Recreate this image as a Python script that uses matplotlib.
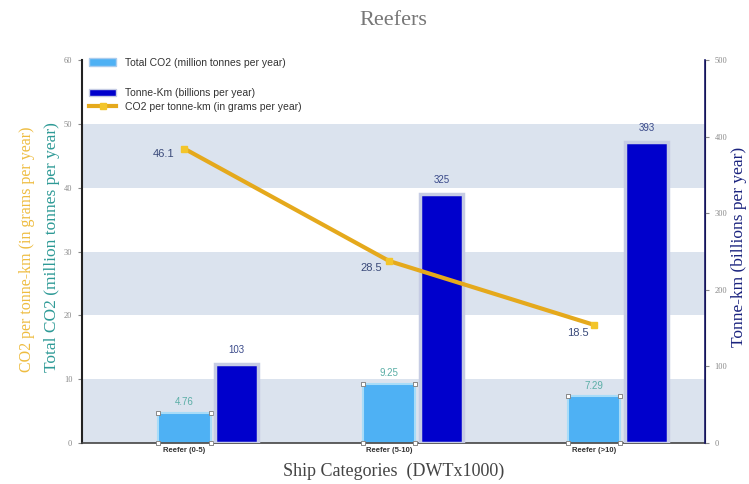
import matplotlib.pyplot as plt
import matplotlib.lines as mlines
import matplotlib.patches as mpatches
import numpy as np

categories = ['Reefer (0-5)', 'Reefer (5-10)', 'Reefer (>10)']
total_co2 = [4.76, 9.25, 7.29]
total_co2_labels = ['4.76', '9.25', '7.29']
tonne_km = [103, 325, 393]
co2_per_tkm = [46.1, 28.5, 18.5]

serif = 'Liberation Serif'
sans = 'Liberation Sans'
light_blue = '#4eb1f4'
dark_blue = '#0000cc'
gold = '#e5a91c'

fig = plt.figure(figsize=(7.49, 4.84), dpi=100)
ax = fig.add_axes([0.1095, 0.0847, 0.8315, 0.7913])
ax2 = ax.twinx()
ax3 = ax.twinx()

x = np.arange(len(categories))
w1 = 0.255
w2 = 0.21
off = 0.255

# background bands
for lo in (0, 20, 40):
    ax.axhspan(lo, lo + 10, color='#dbe3ee', zorder=0, lw=0)

ax.bar(x, total_co2, width=w1, color=light_blue, edgecolor='#a8dcf8', linewidth=1.5, zorder=2)
for xi, v in zip(x, total_co2):
    cx = [xi - w1 / 2, xi + w1 / 2, xi - w1 / 2, xi + w1 / 2]
    cy = [0, 0, v, v]
    ax.scatter(cx, cy, marker='s', s=10, facecolor='white', edgecolor='#888888', linewidth=0.7, zorder=3, clip_on=False)
for xi, v, t in zip(x, total_co2, total_co2_labels):
    ax.text(xi, v + 0.9, t, ha='center', va='bottom', fontsize=7, color='#5aaea6', family=sans)

ax2.bar(x + off, tonne_km, width=w2, color=dark_blue, edgecolor='#c6cce4', linewidth=2.5, zorder=2)
for xi, v in zip(x, tonne_km):
    ax2.text(xi + off, v + 12, str(v), ha='center', va='bottom', fontsize=7, color='#3a4a8a', family=sans)

ax3.plot(x, co2_per_tkm, color=gold, lw=3, marker='s', markersize=5,
         markerfacecolor='#f3c52a', markeredgecolor='#f3c52a', zorder=5)
offsets = [(-0.1, -0.9), (-0.09, -1.1), (-0.08, -1.3)]
for xi, v, (dx, dy) in zip(x, co2_per_tkm, offsets):
    ax3.text(xi + dx, v + dy, str(v), ha='center', va='center', fontsize=8, color='#3a4a7a', family=sans)

ax.set_xlim(-0.5, 2.54)
ax.set_ylim(0, 60)
ax2.set_ylim(0, 500)
ax3.set_ylim(0, 60)
ax3.axis('off')

ax.set_yticks(range(0, 61, 10))
ax2.set_yticks(range(0, 501, 100))
ax.set_xticks(x)
ax.set_xticklabels(categories, fontsize=5.5, fontweight='bold', color='#333333', family=sans)
ax.tick_params(axis='x', length=0, pad=3)
ax.tick_params(axis='y', labelsize=6, colors='#888888', length=3, pad=4)
ax2.tick_params(axis='y', labelsize=6, colors='#888888', length=3, pad=4)
for lab in ax.get_yticklabels() + ax2.get_yticklabels():
    lab.set_family(serif)

for a in (ax, ax2):
    a.spines['top'].set_visible(False)
ax.spines['left'].set_color('#222222')
ax.spines['left'].set_linewidth(1.5)
ax.spines['bottom'].set_color('#444444')
ax.spines['bottom'].set_linewidth(1.2)
ax2.spines['right'].set_color('#1a1a6a')
ax2.spines['right'].set_linewidth(1.2)
ax2.spines['left'].set_visible(False)
ax2.spines['bottom'].set_visible(False)
for s in ax3.spines.values():
    s.set_visible(False)

fig.text(0.525, 0.958, 'Reefers', fontsize=16, color='#777777', family=serif, ha='center', va='center')
ax.set_xlabel('Ship Categories  (DWTx1000)', fontsize=13, color='#444444', family=serif, labelpad=6)
fig.text(0.986, 0.49, 'Tonne-km (billions per year)', rotation=90, fontsize=12.5,
         color='#1a237e', family=serif, ha='center', va='center')
fig.text(0.069, 0.49, 'Total CO2 (million tonnes per year)', rotation=90, fontsize=12.5,
         color='#2e9a96', family=serif, ha='center', va='center')
fig.text(0.036, 0.485, 'CO2 per tonne-km (in grams per year)', rotation=90, fontsize=11.5,
         color='#eebc40', family=serif, ha='center', va='center')

h1 = mpatches.Patch(facecolor=light_blue, edgecolor='#aaccee', label='Total CO2 (million tonnes per year)')
h2 = mpatches.Patch(facecolor=dark_blue, edgecolor='#c6cce4', label='Tonne-Km (billions per year)')
h3 = mlines.Line2D([], [], color=gold, lw=3, marker='s', markersize=4,
                   markerfacecolor='#f3c52a', markeredgecolor='#f3c52a', label='CO2 per tonne-km (in grams per year)')
leg1 = ax3.legend(handles=[h1], loc='upper left', bbox_to_anchor=(0.0, 1.025), frameon=False,
                  prop={'family': sans, 'size': 7.5}, handlelength=2.6, borderpad=0.2)
for t in leg1.get_texts():
    t.set_color('#333333')
ax3.add_artist(leg1)
leg2 = ax3.legend(handles=[h2, h3], loc='upper left', bbox_to_anchor=(0.0, 0.945), frameon=False,
                  prop={'family': sans, 'size': 7.5}, handlelength=2.6, borderpad=0.2, labelspacing=0.35)
for t in leg2.get_texts():
    t.set_color('#333333')

fig.savefig('out.png', dpi=100)
